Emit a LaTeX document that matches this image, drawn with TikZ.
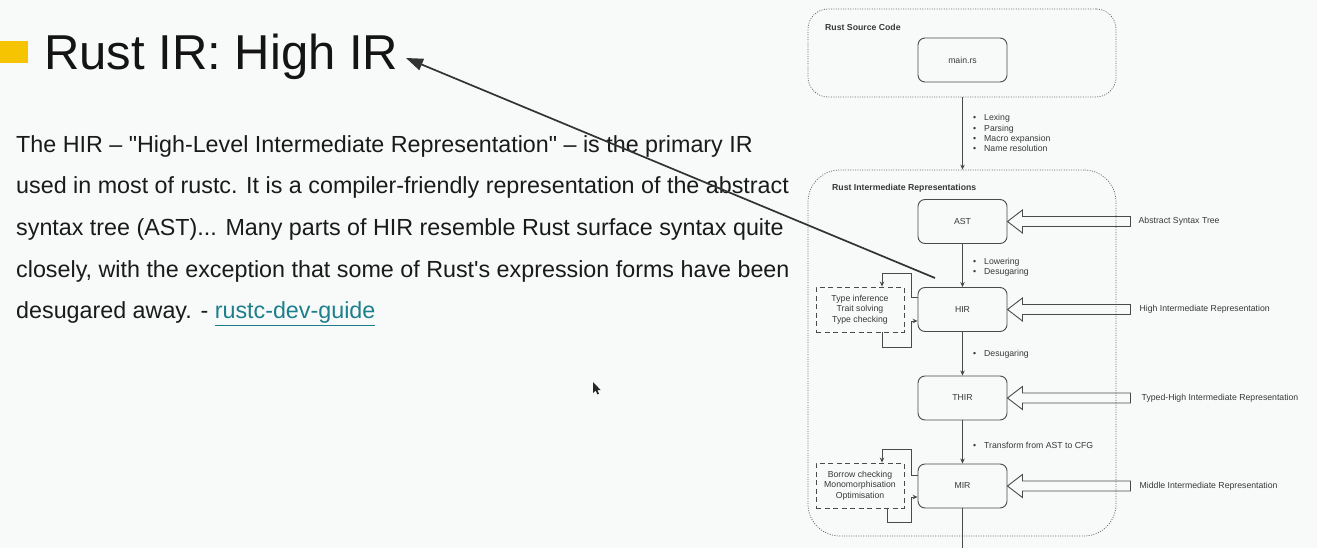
\documentclass[tikz,border=0pt]{standalone}
\usepackage{fontspec}
\setmainfont{Liberation Sans}[Ligatures=TeXOff]
\usetikzlibrary{arrows.meta,calc}

\definecolor{pagebg}{HTML}{F8FAF9}
\definecolor{accent}{HTML}{F6C400}
\definecolor{linkc}{HTML}{1B7F8C}
\definecolor{ln}{HTML}{4A4A4A}
\definecolor{bodytext}{HTML}{1A1A1A}

\newcommand\irbul{\makebox[11pt][l]{\textbullet}}

\begin{document}
\begin{tikzpicture}[x=1pt,y=-1pt,
  small/.style={font=\fontsize{8.7}{10.4}\selectfont, text=black!78},
  container/.style={draw=ln!85, line width=0.75pt, dash pattern=on 1pt off 1.4pt},
  irbox/.style={small, draw=ln, line width=0.9pt, rounded corners=7pt,
    minimum width=89pt, minimum height=44pt, inner sep=0pt},
  sidebox/.style={small, draw=ln, line width=0.9pt, dash pattern=on 5pt off 3.5pt,
    minimum width=88pt, minimum height=45pt, inner sep=0pt, align=center},
  flow/.style={draw=ln, line width=0.8pt, -{Stealth[length=5pt,width=4.5pt]}},
  hollow/.style={draw=ln, line width=0.9pt, line join=miter},
  item/.style={small, anchor=base west, inner sep=0pt},
  desc/.style={small, anchor=west, inner sep=0pt},
  body/.style={anchor=base west, inner sep=0pt, text=bodytext,
    font=\fontsize{23.3}{27}\selectfont},
  pointer/.style={draw=black!80, line width=1.7pt,
    -{Triangle[length=17pt,width=12pt]}},
]
% page
\path[use as bounding box, fill=pagebg] (0,0) rectangle (1317,548);

% ---- slide heading and text ----
\fill[accent] (0,41) rectangle (28,63);
\node[anchor=base west, inner sep=0pt, text=black!92,
  font=\fontsize{49}{51}\selectfont] (title) at (44,69.5) {Rust IR: High IR};

\node[body] (l1) at (16,152.5) {The HIR – "High-Level Intermediate Representation" – is the primary IR};
\node[body] (l2) at (16,194) {used in most of rustc. It is a compiler-friendly representation of the abstract};
\node[body] (l3) at (16,235.5) {syntax tree (AST)... Many parts of HIR resemble Rust surface syntax quite};
\node[body] (l4) at (16,277) {closely, with the exception that some of Rust's expression forms have been};
\node[body] (l5) at (16,318.5) {desugared away. - \textcolor{linkc}{\underline{rustc-dev-guide}}};

% ---- source code group ----
\node[container, rounded corners=20pt, minimum width=308pt, minimum height=88pt,
  inner sep=0pt] (src) at (962,53) {};
\node[small, font=\fontsize{8.7}{10}\selectfont\bfseries, anchor=west, inner sep=0pt]
  (srclbl) at (825,27) {Rust Source Code};
\node[irbox] (mainrs) at (962.5,60) {main.rs};

% ---- intermediate representations group ----
\node[container, rounded corners=32pt, minimum width=308pt, minimum height=366pt,
  inner sep=0pt] (irs) at (962,353) {};
\node[small, font=\fontsize{8.7}{10}\selectfont\bfseries, anchor=west, inner sep=0pt]
  (irslbl) at (832,188) {Rust Intermediate Representations};

\node[irbox] (ast)  at (962.5,221.5) {AST};
\node[irbox] (hir)  at (962.5,309.5) {HIR};
\node[irbox] (thir) at (962.5,398)   {THIR};
\node[irbox] (mir)  at (962.5,486)   {MIR};

% main flow
\draw[flow] (src.south -| mainrs.south) -- (ast.north |- irs.north);
\draw[flow] (ast.south) -- (hir.north);
\draw[flow] (hir.south) -- (thir.north);
\draw[flow] (thir.south) -- (mir.north);
\coordinate (out) at (962.5,549);
\draw[draw=ln, line width=0.8pt] (mir.south) -- (out);

% step notes
\node[item] (lex)   at (973,121)   {\irbul Lexing};
\node[item] (parse) at (973,131.3) {\irbul Parsing};
\node[item] (macro) at (973,141.6) {\irbul Macro expansion};
\node[item] (names) at (973,151.9) {\irbul Name resolution};
\node[item] (lower) at (973,264)   {\irbul Lowering};
\node[item] (desg1) at (973,274.3) {\irbul Desugaring};
\node[item] (desg2) at (973,356)   {\irbul Desugaring};
\node[item] (xform) at (973,448)   {\irbul Transform from AST to CFG};

% hollow pointers with descriptions
\foreach \b/\dx/\t in {ast/131/Abstract Syntax Tree,
                       hir/132/High Intermediate Representation,
                       thir/134/Typed-High Intermediate Representation,
                       mir/132/Middle Intermediate Representation}{
  \draw[hollow] (\b.east) -- ++(15,-11.5) -- ++(0,6.5) -- ++(108,0) -- ++(0,10)
    -- ++(-108,0) -- ++(0,6.5) -- cycle;
  \node[desc] (\b-desc) at ($(\b.east)+(\dx,0)$) {\t};
}

% analysis passes on HIR
\node[sidebox] (hirchk) at (860,309.5) {Type inference\\Trait solving\\Type checking};
\draw[flow] (hir.west |- 0,297) -| (911,273) -| ([xshift=22pt]hirchk.north);
\draw[flow] ([xshift=22pt]hirchk.south) |- (911,347) |- (hir.west |- 0,321);

% analysis passes on MIR
\node[sidebox] (mirchk) at (860,485.5) {Borrow checking\\Monomorphisation\\Optimisation};
\draw[flow] (mir.west |- 0,475) -| (911,449) -| ([xshift=22pt]mirchk.north);
\draw[flow] ([xshift=27pt]mirchk.south) |- (911,522) |- (mir.west |- 0,497);

% annotation arrow from HIR up to the heading
\coordinate (ptrstart) at (935,278);
\coordinate (ptrtip) at (406,58);
\draw[pointer] (ptrstart) -- (ptrtip);

% mouse cursor
\fill[black!85] (593,382) -- (593,393) -- (595.6,390.6) -- (597.4,394.4) -- (599,393.7)
  -- (597.3,390) -- (600.6,390) -- cycle;
\end{tikzpicture}
\end{document}
